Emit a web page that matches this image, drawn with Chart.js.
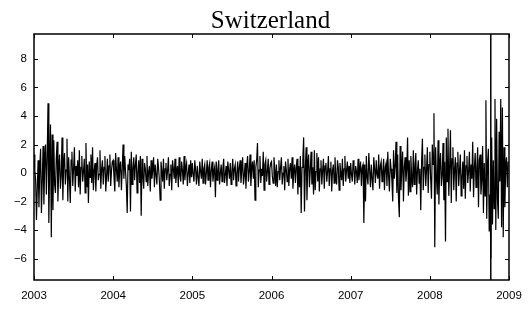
<!DOCTYPE html>
<html>
<head>
<meta charset="utf-8">
<script src="https://cdn.jsdelivr.net/npm/chart.js@4"></script>
<style>
  html, body { margin: 0; padding: 0; background: #fff; }
  #wrap { width: 532px; height: 309px; position: relative; }
</style>
</head>
<body>
<div id="wrap"><canvas id="chart" width="532" height="309"></canvas></div>
<script>
/* daily returns (96 samples a year) */
const years = [2003, 2004, 2005, 2006, 2007, 2008];

const r2003 = [1.3, 0.2, -0.5, -3.3, -1.0, 0.9, -2.4, 0.4, 1.7, -2.8, -0.6, 1.9, -2.2, 0.8, 2.0, -1.5, 1.2,
  4.9, -3.5, 0.6, 3.4, -4.5, 2.7, -2.6,
  2.3, -0.8, -1.4, 1.0, 2.2, -2.0, 0.3, 1.3, -1.1, -0.2, 2.5, -1.9, 0.7, 1.4, -0.8, 0.2, 2.4, -2.0, 1.1, -0.4, -2.1, 0.9,
  1.5, -0.9, 0.3, 1.8, -1.3, 0.5, -0.2, 0.9, -1.0, 1.6, -1.5, 0.4, 1.2, -0.6, 0.1, 1.0, -1.4, 2.1, -1.0, 0.6, -2.1, 0.8, -0.3, 1.3, -0.7,
  1.8, -1.2, 0.2, 0.7, -1.3, 0.5, 1.1, -0.5, -0.1, 1.6, -1.1, 0.3, 0.9, -0.8, 0.4, 1.2, -1.3, -0.2, 1.0, -0.6, 0.5, 1.3, -0.9, 0.2, 0.8];

const r2004 = [0.9, -0.3, -1.3, 1.4, 0.2, -0.6, 1.1, -1.0, 0.4, 0.8, -1.2, 0.3,
  2.0, -0.4, 1.2, 0.1, -0.9, -2.8, 0.6, 0.2, 1.0, -2.7,
  1.5, -0.8, 0.3, 1.1, -0.5, 0.6, 1.3, -1.4, 0.0, 0.9, -0.7, 1.2,
  -3.0,
  1.0, -0.2, -1.1, 0.7, 0.3, -0.6, 1.2, -0.9, 0.1, 0.5, -1.3, 0.9, -0.4, 0.2, 1.1, -1.0, 0.6, -0.1, -0.8, 1.0, 0.4, -0.5,
  -1.9,
  0.8, 0.1, -0.6, 1.0, -1.1, 0.3, 0.7, -0.5, 0.2, 1.1, -0.9, -0.1, 0.6, -1.2, 0.9, 0.3, -0.4, 1.0, -0.7, 0.1, 0.5, -1.0, 1.1, -0.2, -0.6, 0.8, 0.2, -0.8, 1.2, -0.5, 0.4, 0.7, -0.9, 0.0, 0.6, -0.7, 0.9, -0.3];

const r2005 = [0.7, -0.1, -0.6, 0.9, 0.2, -0.8, 0.5, -0.3, -0.9, 0.8, 0.1, -0.4, 1.0, -0.7, 0.3, 0.6, -0.8, 0.0, 0.9, -0.5, 0.4, 0.7, -1.0, 0.2, 0.8, -0.6, 0.1, 0.4,
  -1.7,
  0.8, -0.5, 0.2, 0.9, -0.8, 0.0, 0.6, -0.6, 0.3, 1.0, -0.7, -0.1, 0.5, -0.9, 0.8, 0.2, -0.4, 0.7, -0.8, 0.1, 1.0, -0.5, 0.3, 0.6, -0.9, 0.0, 0.8, -0.6, 0.4, 0.9, -0.7, 0.2, 1.1, -0.8, -0.2, 0.7, -1.1, 0.5, 1.2, -0.6, 0.1, 1.3, -0.9, 0.3, 0.8, -0.4, 0.9,
  -1.9,
  0.4, 0.9, 2.1, -1.0, 0.2, 1.2, -0.7, 0.3, -0.2, 1.5, -1.2, 0.6, 0.9, -0.6, 0.1, 1.0, -0.8, 0.3, 0.7];

const r2006 = [0.8, -0.2, -0.7, 1.1, 0.3, -0.9, 0.6, -1.0, 0.1, 0.9, -0.5, 0.4, 1.1, -0.8, 0.0, 0.5, -1.2, 0.8, 0.2, -0.6, 1.0, -0.9, 0.3, 0.7, -0.4, 1.1, -1.1, 0.1, 0.6, -0.7, 0.4, 1.0, -1.5, 0.5, -1.0,
  1.2, -2.8, 0.4, 1.0, 2.5, -2.7, 0.3, 1.8, -1.9, 0.6,
  1.3, -1.0, 0.2, 1.5, -0.8, 0.4, -1.5, 1.6, -1.2, 0.1, 1.4,
  -0.6, 1.1, -1.3, 0.3, 0.9, -0.8, 0.2, 1.0, -1.1, 0.5, 0.7, -0.6, 0.1, 1.2, -0.9, 0.3, 0.8, -1.3, 0.2, 0.6, -0.7, 1.1, -0.3, -0.8, 0.9, 0.4, -1.2, 0.7, 0.0, -0.5, 1.0, -0.9, 0.3, 1.2, -0.6, 0.2, 0.8, -0.4, 0.5, -0.7];

const r2007 = [0.7, -0.1, -0.6, 0.9, 0.3, -0.8, 0.5, 0.1, -0.7, 1.0, -0.5, 0.2, 0.8, -0.9, 0.4, 0.6,
  -3.5, 0.6, -2.0,
  1.2, -0.3, -0.8, 1.4, 0.2, -1.0, 0.6, -0.4, -1.2, 1.1, 0.3, -0.7, 0.9, -0.1, -0.4, 1.3, -1.1, 0.5, 0.8, -0.6, 0.1, 1.0, -1.2, 0.4, 0.7, -0.9, 1.5, -0.2, -1.3, 1.0, 0.3, -0.5,
  -2.0, 1.6, -0.4, 0.5, 2.2, -1.4, 1.3, -1.8, -3.1, 1.9,
  -1.2, 0.3, 1.5, -2.0, 0.4, 1.1, -0.6, 0.2, 2.5, -1.6, 0.9, -1.3,
  1.2, -0.3, -1.0, 1.6, -0.8, 0.5, 1.4, -1.5, 0.2, 0.9, -0.7, 0.3, -2.6, 0.8, 2.4, -1.2, 0.4, 1.3, -0.9, 0.2, 1.8, -1.4, 0.6];

const r2008 = [1.5, -0.4, -1.8, 2.0, 0.6,
  4.2, -5.2,
  1.8, -0.3, -1.5, 2.3, -2.2, 0.5, 1.4, -0.9, -0.2, 2.1, -1.9, 0.8,
  -4.8, 2.5, -0.6, 3.1, -1.6, 0.4, 3.0, -2.1, 1.0,
  1.8, -1.2, 0.3, 1.1, -2.0, 0.7, 1.5, -0.9, 0.2, 1.3, -1.6, -0.3, 0.8, -1.1, 1.6, -1.8, 0.5, 1.2, -0.7, 0.1, 1.5, -1.3, 0.6, -0.4,
  2.2, -1.7, 0.4, 1.4, -1.0, 0.3, 1.8, -2.4, 0.9, 1.3, -1.5, -0.5, 1.9, -2.8, 0.7, -1.6,
  5.1, -3.2, 0.8, 1.7, -4.1, -1.5, -6.0, 2.5, -3.6, 0.9, -2.5, 5.2, -4.0, 3.8, -1.8, -3.2, 2.9, -0.6, 5.2, -3.8, 4.6, -4.5, 1.8, -2.4, 0.5, 1.1, -1.0, 0.8];

const xTicks = [2003, 2004, 2005, 2006, 2007, 2008, 2009];
const yTicks = [-6, -4, -2, 0, 2, 4, 6, 8];
const yRange = [-7.5, 9.75];
const markerX = 2008.77;

const returns = [r2003, r2004, r2005, r2006, r2007, r2008];
let points = [];
returns.forEach((arr, k) => {
    arr.forEach((v, i) => {
        points.push({ x: years[k] + i / arr.length, y: v });
    });
});

/* frame + inward ticks on all four sides, plus title */
const framePlugin = {
    id: "frame",
    afterDraw(chart) {
        const ctx = chart.ctx;
        const a = chart.chartArea;
        const xs = chart.scales.x, ys = chart.scales.y;
        ctx.save();
        ctx.strokeStyle = "#000";
        ctx.lineWidth = 1.5;
        ctx.strokeRect(a.left, a.top, a.right - a.left, a.bottom - a.top);
        ctx.lineWidth = 1;
        ctx.beginPath();
        xTicks.forEach(t => {
            let px = Math.round(xs.getPixelForValue(t)) + 0.5;
            ctx.moveTo(px, a.bottom); ctx.lineTo(px, a.bottom - 4);
            ctx.moveTo(px, a.top); ctx.lineTo(px, a.top + 4);
        });
        yTicks.forEach(t => {
            let py = Math.round(ys.getPixelForValue(t)) + 0.5;
            ctx.moveTo(a.left, py); ctx.lineTo(a.left + 4, py);
            ctx.moveTo(a.right, py); ctx.lineTo(a.right - 4, py);
        });
        ctx.stroke();

        ctx.fillStyle = "#000";
        ctx.font = "25px 'Liberation Serif', 'DejaVu Serif', serif";
        ctx.textAlign = "center";
        ctx.textBaseline = "alphabetic";
        ctx.fillText("Switzerland", (a.left + a.right) / 2 - 1, 28);
        ctx.restore();
    }
};

new Chart(document.getElementById("chart"), {
    type: "line",
    data: {
        datasets: [{
            data: points,
            borderColor: "#000",
            borderWidth: 1.2,
            pointRadius: 0,
            tension: 0
        }, {
            data: [{ x: markerX, y: yRange[0] }, { x: markerX, y: yRange[1] }],
            borderColor: "#000",
            borderWidth: 1.5,
            pointRadius: 0
        }]
    },
    options: {
        responsive: false,
        animation: false,
        events: [],
        layout: { padding: { left: 0, right: 23, top: 34, bottom: 0 } },
        plugins: { legend: { display: false }, tooltip: { enabled: false } },
        scales: {
            x: {
                type: "linear",
                min: xTicks[0],
                max: xTicks[xTicks.length - 1],
                afterBuildTicks: s => { s.ticks = xTicks.map(v => ({ value: v })); },
                afterFit: s => { s.height = 29; },
                grid: { display: false, drawTicks: false },
                border: { display: false },
                ticks: {
                    padding: 9,
                    color: "#000",
                    font: { family: "'Liberation Sans', Arial, sans-serif", size: 11.5 },
                    maxRotation: 0,
                    callback: v => String(v)
                }
            },
            y: {
                min: yRange[0],
                max: yRange[1],
                afterBuildTicks: s => { s.ticks = yTicks.map(v => ({ value: v })); },
                afterFit: s => { s.width = 34; },
                grid: { display: false, drawTicks: false },
                border: { display: false },
                ticks: {
                    padding: 7,
                    color: "#000",
                    font: { family: "'Liberation Sans', Arial, sans-serif", size: 11.5 },
                    callback: v => (v < 0 ? "\u2212" + Math.abs(v) : String(v))
                }
            }
        }
    },
    plugins: [framePlugin]
});
</script>
</body>
</html>
